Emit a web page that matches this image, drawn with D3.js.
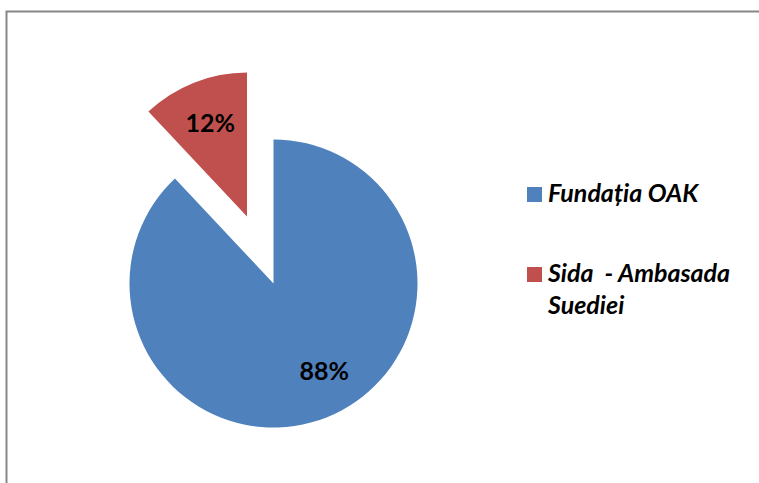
<!DOCTYPE html>
<html>
<head>
<meta charset="utf-8">
<script src="https://cdn.jsdelivr.net/npm/d3@7"></script>
<style>
  body { margin: 0; background: #fff; }
  svg { display: block; }
  .lbl { font-family: Lato, "Open Sans", sans-serif; font-weight: bold; font-size: 25px; fill: #000; }
  .leg { font-family: Lato, "Open Sans", sans-serif; font-weight: bold; font-style: italic; font-size: 25px; fill: #000; white-space: pre; }
</style>
</head>
<body>
<div id="chart"></div>
<script>
// data
let categories = ["Fundația OAK", "Sida  - Ambasada Suediei"];
let values = [88, 12];
let legendLines = [["Fundația OAK"], ["Sida  - Ambasada", "Suediei"]];
let colors = ["#4F81BD", "#C0504D"];

let svgWidth = 759;
let svgHeight = 483;

let svg = d3.select("#chart")
  .append("svg")
  .attr("width", svgWidth)
  .attr("height", svgHeight);

// chart area frame, runs off the right and bottom edge
svg.append("rect")
  .attr("x", 6.5)
  .attr("y", 11.5)
  .attr("width", 800)
  .attr("height", 600)
  .attr("fill", "none")
  .attr("stroke", "#878787")
  .attr("stroke-width", 2);

let cx = 273.5;
let cy = 283.5;
let radius = 144;
let explode = 72;   // how far the red slice is pulled out

let pie = d3.pie().sort(null).value(function(d){ return d; });
let arcs = pie(values);

let arc = d3.arc().innerRadius(0).outerRadius(radius);
let labelArc = d3.arc().innerRadius(100).outerRadius(100);

let g = svg.append("g").attr("transform", "translate(" + cx + "," + cy + ")");

function offset(d, i) {
  if (i === 0) return [0, 0];
  let mid = (d.startAngle + d.endAngle) / 2;
  return [Math.sin(mid) * explode, -Math.cos(mid) * explode];
}

let slices = g.selectAll("g.slice")
  .data(arcs)
  .enter()
  .append("g")
  .attr("class", "slice")
  .attr("transform", function(d, i){
    let o = offset(d, i);
    return "translate(" + o[0] + "," + o[1] + ")";
  });

slices.append("path")
  .attr("d", arc)
  .attr("fill", function(d, i){ return colors[i]; });

// small nudge for the big slice's label, Excel puts it off the centroid
let nudge = [[14, -6], [0, -2]];

slices.append("text")
  .attr("class", "lbl")
  .attr("text-anchor", "middle")
  .attr("dominant-baseline", "central")
  .attr("x", function(d, i){ return labelArc.centroid(d)[0] + nudge[i][0]; })
  .attr("y", function(d, i){ return labelArc.centroid(d)[1] + nudge[i][1]; })
  .text(function(d){ return d.data + "%"; });

// legend
let legend = svg.append("g").attr("transform", "translate(527,187)");

let legendScale = d3.scaleBand()
  .domain(categories)
  .range([0, 160]);

let items = legend.selectAll("g.item")
  .data(categories)
  .enter()
  .append("g")
  .attr("class", "item")
  .attr("transform", function(d){ return "translate(0," + legendScale(d) + ")"; });

items.append("rect")
  .attr("width", 15)
  .attr("height", 15)
  .attr("fill", function(d, i){ return colors[i]; });

items.append("text")
  .attr("class", "leg")
  .attr("x", 21)
  .attr("y", 15)
  .attr("xml:space", "preserve")
  .selectAll("tspan")
  .data(function(d, i){ return legendLines[i]; })
  .enter()
  .append("tspan")
  .attr("x", 21)
  .attr("dy", function(d, j){ return j === 0 ? 0 : 32; })
  .text(function(d){ return d; });
</script>
</body>
</html>
